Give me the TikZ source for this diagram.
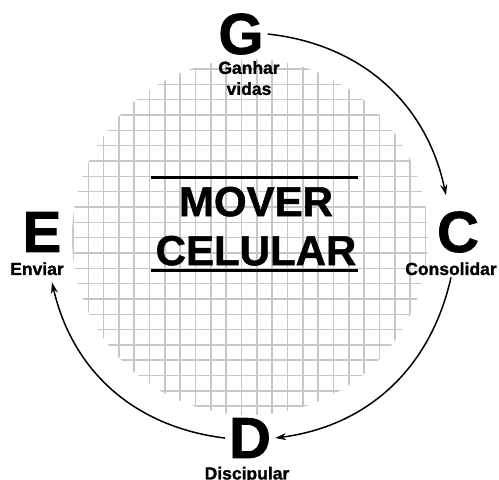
\documentclass[tikz,border=0pt]{standalone}
\usepackage{fontspec}
\setmainfont{Liberation Sans}[BoldFeatures={FakeBold=1.2}]
\usepackage{tikz}
\usetikzlibrary{arrows.meta}

\begin{document}
\begin{tikzpicture}[
  x=1pt, y=1pt,
  bigletter/.style={inner sep=4pt, font=\fontsize{58}{60}\selectfont\bfseries},
  steplabel/.style={inner sep=2pt, align=center, font=\fontsize{17.5}{21}\selectfont\bfseries},
  cyc/.style={-{Stealth[length=11pt,width=7pt]}, line width=1.5pt},
  gridline/.style={black!22, line width=1.6pt},
  rule/.style={line width=3pt}
]
\useasboundingbox (0,0) rectangle (499,480);

% grid inside the circle
\begin{scope}
\clip (250,243) circle (178);
\draw[gridline, shift={(11.65pt,12.39pt)}] (46pt,26pt) grid[step=15.33pt] (436pt,444pt);
\end{scope}

\node[align=center, inner sep=0pt, font=\fontsize{42}{49}\selectfont\bfseries]
  (title) at (256,253.8) {MOVER\\CELULAR};
\draw[rule] (151,302) -- (358,302);
\draw[rule] (151,209) -- (358,209);

\node[bigletter, anchor=base] (g) at (241,426) {G};
\node[steplabel, anchor=north, inner sep=0pt] (gain) at (249,419) {Ganhar\\vidas};

\node[bigletter, anchor=base] (c) at (458,228) {C};
\node[steplabel, anchor=base] (cons) at (451,205) {Consolidar};

\node[bigletter, anchor=base] (d) at (250,22) {D};
\node[steplabel, anchor=base] (disc) at (247,0.5) {Discipular};

\node[bigletter, anchor=base] (e) at (42,228) {E};
\node[steplabel, anchor=base] (env) at (37,205) {Enviar};

\draw[cyc] (g.east) to[bend left=36] ([xshift=-12pt,yshift=12pt]c.north);
\draw[cyc] (cons.south) to[bend left=35] (d.east);
\draw[cyc] (d.west) to[bend left=35] ([xshift=15pt,yshift=-5pt]env.south);

\end{tikzpicture}
\end{document}
